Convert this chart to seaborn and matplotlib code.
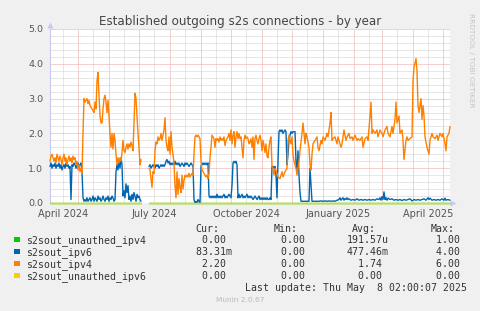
import numpy as np
import pandas as pd
import matplotlib
matplotlib.use("Agg")
import matplotlib.pyplot as plt
import matplotlib.dates as mdates
from matplotlib.ticker import MultipleLocator, FuncFormatter
from matplotlib.patches import Rectangle
import seaborn as sns

# ---------------- data ----------------
START = pd.Timestamp("2024-04-03")
SPAN_DAYS = 400
NAN = float("nan")

orange_days = (list(range(0, 92)) + [95] + list(range(99, 223)) +
    [223,224,225,227,228,230,232,233,235,237,238,239,241,242,243,244,246,247,248,249,250,252,253,254,255,256,257,259,260,261,262,263,265,267,268,269,271,272,273,275,277,278,280,281,282,283,285,287,288,289,291,292,293,294,296,297,299,300,302,303,305,307,308,310,312,313,315,317,318,320,321,322,323,325,327,328,330,332,333,335,337,338,340,342,343,345,346,347,349,350,352,353,354,356,357,358,360,362,363,364,366,367,368,369,371,372,373,374,375,377,378,379,380,382,383,385,387,388,390,392,393,395,396,397,399,400])
orange_vals = [
    1.2,1.35,1.4,1.3,1.2,1.3,1.15,1.4,1.3,1.2,1.35,1.25,1.1,1.3,1.4,1.2,1.3,1.1,1.25,1.35,
    1.2,1.3,1.15,1.35,1.25,1.3,1.1,1.2,0.95,1.1,0.9,1.0,0.85,2.0,3.0,2.9,2.95,3.0,2.85,2.95,
    2.8,2.75,2.7,2.65,2.6,2.9,2.7,3.5,3.75,3.1,2.5,2.3,2.3,2.7,3.0,3.1,2.9,2.6,2.95,2.5,
    2.0,1.6,2.0,1.55,2.0,1.8,1.4,1.1,1.3,1.15,1.3,1.2,1.45,1.8,1.5,1.45,1.6,1.7,1.55,1.7,
    1.6,1.75,1.65,1.5,2.3,3.15,3.0,2.5,2.0,1.6,1.1,1.25,
    NAN,
    1.0,0.95,0.7,0.45,0.9,0.85,1.5,1.75,1.7,1.9,1.8,1.85,2.0,1.8,1.95,2.1,2.45,1.8,1.6,1.5,
    1.9,1.4,2.05,1.6,1.4,1.15,0.5,0.15,0.9,0.25,0.7,0.45,0.3,0.8,0.4,0.65,0.8,0.75,0.8,0.75,
    0.85,0.75,0.8,0.85,0.8,1.4,1.9,1.95,1.9,1.95,1.9,1.85,1.2,0.95,0.9,0.85,0.8,0.75,0.8,0.7,
    0.85,1.3,1.6,1.95,1.9,1.85,1.6,1.85,1.8,1.85,1.75,1.9,1.8,1.85,1.8,1.9,1.65,1.8,1.85,1.9,
    2.0,1.8,2.1,1.7,1.95,2.05,1.6,1.9,2.05,1.85,2.0,
    1.85,1.9,1.6,1.3,1.8,1.95,1.85,1.9,1.85,1.7,1.75,1.85,1.6,1.9,1.25,1.85,1.95,1.8,1.7,1.85,
    1.95,1.8,1.5,1.8,1.65,1.45,1.7,1.35,1.3,1.6,1.8,1.9,1.05,
    1.0,0.8,1.0,0.85,0.75,0.7,0.9,0.75,0.9,1.0,1.8,1.95,1.7,1.9,1.4,1.2,1.0,0.8,1.0,1.2,
    1.5,2.0,2.3,2.0,1.7,2.0,1.9,1.6,1.1,0.95,1.4,1.7,1.8,1.9,1.6,1.5,1.8,1.7,1.9,1.8,
    2.0,1.9,2.3,2.6,1.8,1.85,1.9,1.7,1.9,1.8,1.6,1.7,1.9,2.1,1.8,1.9,2.0,1.85,1.9,1.8,
    1.95,1.8,1.85,1.8,1.9,1.6,1.85,1.9,1.8,2.5,2.9,2.0,2.1,2.0,2.1,1.9,2.1,2.0,1.9,2.1,
    2.2,2.0,1.9,2.2,2.0,2.4,2.9,2.3,2.5,2.0,2.1,1.8,1.25,1.8,1.9,1.8,1.85,1.9,3.5,3.9,
    4.15,3.8,2.8,2.6,3.0,2.4,2.8,2.5,1.9,1.6,1.5,1.4,1.8,2.0,1.9,1.85,1.95,1.8,2.0,1.9,
    2.0,1.7,1.5,1.9,2.0,2.2]

blue_days = (list(range(0, 92)) + [95] + list(range(99, 263)) +
    [263,265,267,269,271,273,275,277,279,281,283,285,287,289,290,291,292,293,294,295,296,297,298,299,301,303,305,307,309,311,313,315,317,319,321,323,325,327,329,330,331,332,333,334,335,336,337,338,340,342,344,346,348,350,352,354,356,358,360,362,364,366,368,370,372,374,376,378,379,380,382,384,386,388,390,392,394,395,396,398,400])
blue_vals = [
    1.05,1.15,1.0,1.1,1.05,1.15,1.0,1.1,1.05,1.15,1.0,1.1,0.95,1.05,1.1,1.0,1.15,1.05,1.1,1.0,
    1.05,0.1,1.1,1.05,1.15,1.1,1.0,1.1,1.15,1.05,1.1,1.15,0.9,0.15,0.05,0.1,0.05,0.15,0.05,0.1,
    0.15,0.05,0.1,0.2,0.05,0.15,0.1,0.05,0.2,0.1,0.15,0.05,0.1,0.2,0.1,0.05,0.15,0.1,0.2,0.05,
    0.15,0.1,0.2,0.15,0.05,0.1,0.9,1.1,0.95,1.2,1.0,1.3,1.1,0.2,0.35,0.15,0.55,0.3,0.5,0.1,
    0.2,0.05,0.25,0.1,0.3,0.2,0.05,0.25,0.15,0.2,0.1,0.05,
    NAN,
    1.05,1.1,1.0,1.05,1.1,1.05,1.0,1.1,1.05,1.1,1.0,1.05,1.1,1.05,1.1,1.05,1.1,1.2,1.25,1.15,
    1.2,1.1,1.15,1.1,1.15,1.1,1.2,1.1,1.15,1.1,1.15,1.05,1.1,1.15,1.1,1.05,1.15,1.1,1.15,1.1,
    1.05,1.1,1.15,1.1,1.05,0.1,0.0,0.05,0.0,0.1,0.05,0.0,1.05,1.15,1.1,1.15,1.1,1.15,1.1,1.15,
    0.2,0.15,0.2,0.15,0.2,0.15,0.2,0.15,0.25,0.15,0.2,0.15,0.2,0.15,0.2,0.25,0.15,0.2,0.15,0.2,
    0.25,0.2,0.15,0.5,1.15,1.2,1.15,1.2,1.1,0.15,0.25,0.15,0.2,0.25,0.15,0.2,0.15,0.2,0.25,0.15,
    0.2,0.15,0.2,0.15,0.1,0.15,0.2,0.15,0.1,0.15,0.2,0.1,0.15,0.1,0.15,0.1,0.15,0.1,0.15,0.1,
    0.1,0.15,0.1,1.05,1.05,1.0,1.05,0.8,0.15,1.2,2.05,2.1,2.05,2.1,2.0,2.05,2.1,2.05,1.1,1.4,
    1.8,1.95,2.05,2.0,2.05,2.05,2.05,1.2,0.9,1.5,0.8,0.3,0.05,0.05,0.05,0.05,0.05,0.05,0.05,0.05,
    0.05,1.0,0.5,0.05,
    0.05,0.05,0.05,0.05,0.06,0.05,0.06,0.05,0.06,0.05,0.06,0.05,0.08,0.1,0.15,0.08,0.12,0.15,0.08,0.13,
    0.1,0.15,0.1,0.12,0.08,0.1,0.08,0.12,0.08,0.1,0.08,0.1,0.08,0.1,0.08,0.1,0.08,0.12,0.1,0.15,
    0.08,0.18,0.1,0.32,0.1,0.15,0.08,0.14,0.1,0.12,0.08,0.1,0.08,0.1,0.07,0.1,0.08,0.1,0.12,0.06,
    0.1,0.08,0.1,0.08,0.1,0.12,0.08,0.15,0.1,0.14,0.08,0.1,0.08,0.1,0.08,0.12,0.08,0.14,0.08,0.1,
    0.08]

flat_days = [0, 91, 95, 99, 400]
green_vals = [0.0, 0.0, NAN, 0.0, 0.0]
yellow_vals = [0.0, 0.0, NAN, 0.0, 0.0]

series_names = ["s2sout_unauthed_ipv4", "s2sout_ipv6", "s2sout_ipv4", "s2sout_unauthed_ipv6"]
series_colors = ["#00CC00", "#0066B3", "#FF8000", "#FFCC00"]
cur_vals = ["0.00", "83.31m", "2.20", "0.00"]
min_vals = ["0.00", "0.00", "0.00", "0.00"]
avg_vals = ["191.57u", "477.46m", "1.74", "0.00"]
max_vals = ["1.00", "4.00", "6.00", "0.00"]

title = "Established outgoing s2s connections - by year"
label_months = ["2024-04", "2024-07", "2024-10", "2025-01", "2025-04"]
last_update = "Last update: Thu May  8 02:00:07 2025"

# ---------------- figure ----------------
sns.set_style("white")
plt.rcParams["font.family"] = ["DejaVu Sans"]

W, H = 481, 311
fig = plt.figure(figsize=(W / 100, H / 100), dpi=100, facecolor="#F0F0F0")
ax = fig.add_axes([50 / W, 1 - 203 / H, 400 / W, 174 / H])
ax.set_facecolor("white")


def frame(days, vals):
    d = pd.DataFrame({"day": days, "value": vals})
    d["seg"] = d["value"].isna().cumsum()
    d = d.dropna()
    d["date"] = START + pd.to_timedelta(d["day"], unit="D")
    return d


all_series = [(flat_days, green_vals), (blue_days, blue_vals),
              (orange_days, orange_vals), (flat_days, yellow_vals)]
for i, ((dd, vv), col) in enumerate(zip(all_series, series_colors)):
    df = frame(dd, vv)
    sns.lineplot(data=df, x="date", y="value", units="seg", estimator=None,
                 color=col, lw=1.0, ax=ax, legend=False, clip_on=False, zorder=3 + i)

ax.set_xlim(START, START + pd.Timedelta(days=SPAN_DAYS))
ax.set_ylim(0, 5)

# grids
ax.xaxis.set_major_locator(mdates.MonthLocator(bymonthday=1))
ax.xaxis.set_minor_locator(mdates.MonthLocator(bymonthday=16))
ax.yaxis.set_major_locator(MultipleLocator(1.0))
ax.yaxis.set_minor_locator(MultipleLocator(0.2))
ax.grid(which="minor", color="#CFCFCF", lw=0.72, ls=(0, (1, 1)), zorder=0)
ax.grid(which="major", color="#EFA0A0", lw=0.72, ls=(0, (1, 1)), zorder=1)
ax.set_axisbelow(True)

ax.xaxis.set_major_formatter(FuncFormatter(lambda v, p: ""))
lab_set = set(label_months)
ax.xaxis.set_minor_formatter(FuncFormatter(
    lambda v, p: mdates.num2date(v).strftime("%B %Y")
    if mdates.num2date(v).strftime("%Y-%m") in lab_set else ""))
ax.yaxis.set_major_formatter(FuncFormatter(lambda v, p: f"{v:.1f}"))

ax.tick_params(axis="both", which="both", length=0)
ax.tick_params(axis="x", which="minor", labelsize=7, colors="#555555", pad=4)
ax.tick_params(axis="y", which="major", labelsize=6.8, colors="#555555", pad=5)
ax.set_xlabel("")
ax.set_ylabel("")

for s in ["top", "right", "bottom"]:
    ax.spines[s].set_visible(False)
ax.spines["left"].set_color("#C8C8F0")
ax.spines["left"].set_linewidth(0.8)
ax.plot([1.008], [0], marker=">", ms=4, color="#C8C8F8", mec="none",
        transform=ax.transAxes, clip_on=False)
ax.plot([0], [1.025], marker="^", ms=4, color="#C8C8F8", mec="none",
        transform=ax.transAxes, clip_on=False)


def fx(px):
    return px / W


def fy(py):
    return 1 - py / H


fig.text(fx(240), fy(24.5), title, ha="center", va="baseline", fontsize=8.6, color="#444444")
fig.text(fx(471.5), fy(13), "RRDTOOL / TOBI OETIKER", rotation=270, ha="center", va="top",
         fontsize=5.3, color="#C4C4C4")

mono = "DejaVu Sans Mono"
fs = 7.1
for txt, x in zip(["Cur:", "Min:", "Avg:", "Max:"], [195, 274, 352.3, 430.7]):
    fig.text(fx(x), fy(231.5), txt, ha="left", va="baseline", fontsize=fs, family=mono, color="#333333")


def pad(s):
    if s[-1].isdigit():
        s = s + " "
    return s.rjust(7)


for i, name in enumerate(series_names):
    base = 243.3 + 12 * i
    fig.patches.append(Rectangle((fx(14), fy(base - 1)), 5.5 / W, 5.5 / H,
                                 transform=fig.transFigure, color=series_colors[i], lw=0))
    fig.text(fx(26.5), fy(base), name, ha="left", va="baseline", fontsize=fs, family=mono, color="#333333")
    for vals, x in zip([cur_vals, min_vals, avg_vals, max_vals], [189.8, 268.8, 346.5, 424.3]):
        fig.text(fx(x), fy(base), pad(vals[i]), ha="left", va="baseline", fontsize=fs,
                 family=mono, color="#333333")

fig.text(fx(245), fy(291.3), last_update, ha="left", va="baseline", fontsize=fs, family=mono, color="#333333")
fig.text(fx(240), fy(302), "Munin 2.0.67", ha="center", va="baseline", fontsize=5.3, color="#BBBBBB")

fig.savefig("out.png", dpi=100, facecolor=fig.get_facecolor())
